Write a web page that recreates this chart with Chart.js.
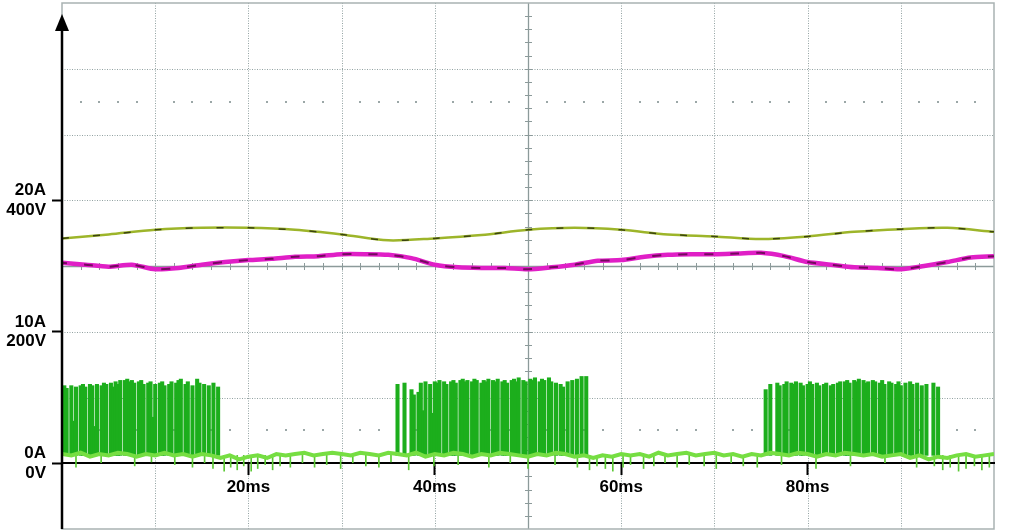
<!DOCTYPE html>
<html>
<head>
<meta charset="utf-8">
<script src="https://cdn.jsdelivr.net/npm/chart.js@4/dist/chart.umd.min.js"></script>
<style>
  html, body { margin: 0; padding: 0; background: #fff; }
  canvas { display: block; }
</style>
</head>
<body>
<canvas id="scope" width="1014" height="531"></canvas>
<script>
// ---- data (time in ms, current in A, voltage in V) ----
const timeLabels = [20, 40, 60, 80];
const ampLabels = [0, 10, 20];
const voltLabels = [0, 200, 400];

// olive trace (V)
const oliveTimes = [0, 5, 10, 15, 20, 25, 30, 35, 40, 45, 50, 55, 60, 65, 70, 75, 80, 85, 90, 95, 100];
const oliveVolts = [342, 348, 355, 358, 358, 355, 348, 339, 342, 347, 355, 358, 355, 348, 345, 341, 345, 352, 356, 358, 352];

// magenta trace (V)
const magentaTimes = [0, 2.5, 5, 7.5, 10, 12.5, 15, 17.5, 20, 22.5, 25, 27.5, 30, 32.5, 35, 37.5, 40, 42.5, 45, 47.5, 50,
  52.5, 55, 57.5, 60, 62.5, 65, 67.5, 70, 72.5, 75, 77.5, 80, 82.5, 85, 87.5, 90, 92.5, 95, 97.5, 100];
const magentaVolts = [305, 302, 299, 302, 295, 297, 302, 306, 309, 311, 314, 315, 318, 318, 317, 312, 302, 298, 297, 297, 295,
  298, 302, 308, 309, 314, 317, 318, 318, 319, 320, 315, 306, 302, 298, 297, 295, 300, 306, 313, 315];

// green current: base level every 1 ms (A)
const baseAmps = [0.7, 0.6, 0.8, 0.5, 0.7, 0.6, 0.8, 0.7, 0.5, 0.7, 0.6, 0.8, 0.6, 0.7, 0.5, 0.7, 0.6, 0.4, 0.6, 0.3,
  0.5, 0.6, 0.4, 0.7, 0.6, 0.7, 0.8, 0.6, 0.7, 0.8, 0.7, 0.6, 0.8, 0.7, 0.6, 0.8, 0.7, 0.6, 0.8, 0.5,
  0.7, 0.6, 0.8, 0.7, 0.5, 0.7, 0.6, 0.8, 0.7, 0.6, 0.5, 0.7, 0.6, 0.8, 0.7, 0.5, 0.6, 0.4, 0.6, 0.5,
  0.7, 0.6, 0.7, 0.5, 0.8, 0.6, 0.7, 0.8, 0.6, 0.7, 0.8, 0.6, 0.7, 0.5, 0.7, 0.6, 0.8, 0.7, 0.6, 0.8,
  0.7, 0.5, 0.7, 0.6, 0.8, 0.7, 0.6, 0.7, 0.5, 0.6, 0.7, 0.4, 0.6, 0.3, 0.5, 0.4, 0.6, 0.7, 0.5, 0.6, 0.7];

// switching bursts: one pulse peak (A) every 0.25 ms, 0 = no pulse
const pulseStep = 0.25;
const burstStarts = [0.25, 36.0, 75.5];
const burst1 = [5.9, 5.7, 0, 5.9, 3.2, 5.8, 0, 5.9, 6.0, 5.8, 0, 6.0, 5.9, 2.8, 6.0, 0, 5.9, 6.1, 6.0, 0,
  6.1, 5.8, 6.2, 6.0, 6.3, 0, 6.3, 6.4, 6.2, 6.3, 6.1, 0, 6.2, 6.3, 6.0, 0, 6.1, 6.2, 3.5, 6.0,
  0, 6.1, 6.2, 5.9, 0, 6.0, 6.2, 0, 6.1, 6.3, 6.4, 0, 6.0, 6.2, 0, 5.9, 0, 6.4, 6.1, 0,
  6.0, 0, 5.9, 0, 6.1, 0, 5.8];
const burst2 = [6.0, 0, 0, 6.1, 0, 0, 5.6, 5.2, 0, 5.4, 6.1, 4.0, 6.2, 0, 6.0, 3.8, 6.2, 6.1, 6.3, 0,
  6.2, 6.0, 0, 6.2, 6.3, 6.1, 0, 6.3, 6.4, 6.2, 6.3, 0, 6.2, 6.4, 6.3, 0, 6.1, 6.3, 6.2, 6.4,
  0, 6.3, 6.2, 6.4, 0, 6.2, 6.3, 6.1, 0, 6.3, 6.4, 6.2, 6.5, 0, 6.3, 6.2, 0, 6.4, 6.3, 6.5,
  0, 6.2, 6.4, 6.3, 0, 6.5, 6.2, 0, 6.1, 0, 6.0, 5.8, 0, 6.2, 0, 6.3, 0, 6.4, 0, 6.6,
  0, 6.6];
const burst3 = [5.6, 0, 6.0, 0, 0, 6.1, 5.9, 0, 6.0, 6.2, 0, 6.1, 6.0, 6.2, 0, 6.1, 5.9, 0, 6.0, 6.2,
  6.0, 0, 6.1, 5.9, 0, 6.0, 6.1, 0, 5.9, 6.0, 0, 6.1, 6.2, 0, 6.2, 6.3, 6.1, 0, 6.3, 6.2,
  6.4, 0, 6.3, 6.1, 6.2, 0, 6.3, 6.2, 0, 6.1, 6.3, 6.0, 0, 6.2, 6.1, 0, 6.0, 6.2, 5.9, 0,
  6.1, 0, 6.2, 6.0, 0, 6.1, 0, 5.9, 0, 6.0, 0, 0, 6.1, 0, 5.8];
const bursts = [burst1, burst2, burst3];

// downward noise spikes on the current trace
const noiseTimes = [1.5, 4.2, 7.8, 9.6, 12.1, 14.0, 15.3, 16.2, 17.4, 18.1, 18.8, 19.5, 20.3, 21.0, 21.8, 22.6, 23.4, 24.5, 25.8, 27.1,
  28.4, 29.9, 31.2, 32.6, 34.0, 35.3, 37.2, 39.9, 42.5, 45.8, 48.1, 50.0, 52.9, 55.3, 56.6, 57.4, 58.3, 59.1, 60.2, 61.0,
  62.4, 63.5, 64.7, 66.0, 67.3, 68.9, 70.2, 71.8, 73.1, 74.6, 77.2, 80.9, 84.6, 88.3, 91.7, 93.6, 94.5, 95.3, 96.2, 97.0,
  97.9, 98.7, 99.5];
const noiseLows = [-0.3, 0.0, -0.2, 0.1, -0.1, -0.3, 0.0, -0.4, -0.6, -0.3, -0.5, -0.2, -0.6, -0.4, -0.1, -0.5, -0.2, -0.3, 0.0, -0.3,
  -0.1, -0.4, 0.0, -0.2, -0.3, 0.1, -0.5, -0.2, -0.1, -0.3, 0.0, -0.4, -0.1, -0.3, -0.5, -0.2, -0.4, -0.6, -0.3, -0.1,
  -0.4, -0.2, 0.0, -0.3, -0.1, -0.2, -0.4, 0.0, -0.2, -0.3, -0.1, -0.4, -0.2, 0.0, -0.3, -0.2, -0.5, -0.3, -0.6, -0.4,
  -0.2, -0.5, -0.3];
const noiseTop = 0.6;

// ---- build datasets ----
const olivePts = oliveTimes.map((t, i) => ({ x: t, y: oliveVolts[i] }));
const magentaPts = magentaTimes.map((t, i) => ({ x: t, y: magentaVolts[i] }));
const basePts = baseAmps.map((v, i) => ({ x: i, y: v }));

const pulsePts = [];
bursts.forEach((b, k) => {
  b.forEach((peak, i) => {
    if (peak > 0) pulsePts.push({ x: burstStarts[k] + i * pulseStep, y: [noiseTop, peak] });
  });
});
const noisePts = noiseTimes.map((t, i) => ({ x: t, y: [noiseLows[i], noiseTop] }));

const FONT = { family: "'Liberation Sans', Arial, sans-serif", size: 17, weight: 'bold', lineHeight: 1.15 };

// oscilloscope graticule, drawn behind everything
const graticule = {
  id: 'graticule',
  beforeDraw(chart) {
    const { ctx, chartArea: a } = chart;
    const x = chart.scales.x, y = chart.scales.y;
    const xStep = chart.options.scales.x.ticks.stepSize;
    const yStep = chart.options.scales.y.ticks.stepSize;
    const xMid = (x.min + x.max) / 2, yMid = (y.min + y.max) / 2;
    const line = (x1, y1, x2, y2) => { ctx.beginPath(); ctx.moveTo(x1, y1); ctx.lineTo(x2, y2); ctx.stroke(); };

    ctx.save();
    // dotted divisions
    ctx.strokeStyle = '#93a2a2';
    ctx.lineWidth = 1;
    ctx.setLineDash([1, 1.5]);
    x.ticks.forEach(t => {
      if (t.value <= x.min || t.value >= x.max || t.value === xMid) return;
      const px = Math.round(x.getPixelForValue(t.value)) + 0.5;
      line(px, a.top, px, a.bottom);
    });
    y.ticks.forEach(t => {
      if (t.value <= y.min || t.value >= y.max || t.value === yMid || t.value === 0) return;
      const py = Math.round(y.getPixelForValue(t.value)) + 0.5;
      line(a.left, py, a.right, py);
    });
    ctx.setLineDash([]);

    // centre cross with minor ticks
    ctx.strokeStyle = '#8c9a9a';
    ctx.lineWidth = 1.3;
    const cx = Math.round(x.getPixelForValue(xMid)) + 0.5;
    const cy = Math.round(y.getPixelForValue(yMid)) + 0.5;
    line(cx, a.top, cx, a.bottom);
    line(a.left, cy, a.right, cy);
    ctx.lineWidth = 1;
    for (let v = y.min + yStep / 5; v < y.max - 1e-6; v += yStep / 5) {
      const py = Math.round(y.getPixelForValue(v)) + 0.5;
      line(cx - 3.5, py, cx + 3.5, py);
    }
    for (let v = x.min + xStep / 5; v < x.max - 1e-6; v += xStep / 5) {
      const px = Math.round(x.getPixelForValue(v)) + 0.5;
      line(px, cy - 3.5, px, cy + 3.5);
    }

    // dot rows
    ctx.fillStyle = '#9ba7a7';
    [y.min + 1.5 * yStep, y.max - 1.5 * yStep].forEach(v => {
      const py = Math.round(y.getPixelForValue(v));
      for (let k = 1; k < (x.max - x.min) / (xStep / 5); k++) {
        if (k % 5 === 0) continue;
        const px = Math.round(x.getPixelForValue(x.min + k * xStep / 5));
        ctx.fillRect(px - 1, py - 1, 2, 2);
      }
    });

    // frame
    ctx.strokeStyle = '#a9b2b2';
    ctx.lineWidth = 1.5;
    ctx.strokeRect(a.left, a.top, a.right - a.left, a.bottom - a.top);
    ctx.restore();
  },
  afterDatasetsDraw(chart) {
    const { ctx, chartArea: a } = chart;
    ctx.save();
    ctx.strokeStyle = '#000';
    ctx.fillStyle = '#000';
    ctx.lineWidth = 2.5;
    ctx.beginPath();
    ctx.moveTo(a.left, a.bottom);
    ctx.lineTo(a.left, a.top + 26);
    ctx.stroke();
    ctx.beginPath();
    ctx.moveTo(a.left, a.top + 11);
    ctx.lineTo(a.left - 7, a.top + 28);
    ctx.lineTo(a.left + 7, a.top + 28);
    ctx.closePath();
    ctx.fill();
    ctx.restore();
  }
};

new Chart(document.getElementById('scope'), {
  type: 'line',
  data: {
    datasets: [
      { type: 'line', data: magentaPts, yAxisID: 'yV', borderColor: 'rgba(70,0,50,0.7)', borderWidth: 2,
        borderDash: [9, 17], borderDashOffset: 4, pointRadius: 0, tension: 0.25, order: 1 },
      { type: 'line', data: magentaPts, yAxisID: 'yV', borderColor: '#e01fc6', borderWidth: 4.5,
        pointRadius: 0, tension: 0.25, order: 2 },
      { type: 'line', data: olivePts, yAxisID: 'yV', borderColor: 'rgba(35,40,10,0.8)', borderWidth: 1.5,
        borderDash: [7, 24], pointRadius: 0, tension: 0.3, order: 3 },
      { type: 'line', data: olivePts, yAxisID: 'yV', borderColor: '#9db52a', borderWidth: 2.5,
        pointRadius: 0, tension: 0.3, order: 4 },
      { type: 'line', data: basePts, yAxisID: 'y', borderColor: '#76de42', borderWidth: 4,
        pointRadius: 0, tension: 0, order: 5 },
      { type: 'bar', data: noisePts, yAxisID: 'y', backgroundColor: '#5cc935', barThickness: 1,
        grouped: false, order: 6 },
      { type: 'bar', data: pulsePts, yAxisID: 'y', backgroundColor: '#1cae1c', barThickness: 3.4,
        grouped: false, order: 7 }
    ]
  },
  options: {
    responsive: false,
    animation: false,
    devicePixelRatio: 1,
    layout: { padding: { top: 3, right: 20, bottom: 2, left: 0 } },
    plugins: { legend: { display: false }, tooltip: { enabled: false } },
    scales: {
      x: {
        type: 'linear',
        position: { y: 0 },
        min: 0, max: 100,
        offset: false,
        ticks: {
          stepSize: 10, autoSkip: false, maxRotation: 0, padding: 3,
          color: '#000', font: FONT,
          callback: v => timeLabels.includes(v) ? v + 'ms' : ''
        },
        grid: {
          offset: false, drawOnChartArea: false, drawTicks: true, tickLength: 11, tickWidth: 2,
          tickColor: c => (c.tick && timeLabels.includes(c.tick.value)) ? '#000' : 'rgba(0,0,0,0)'
        },
        border: { display: true, color: '#000', width: 2 }
      },
      y: {
        type: 'linear',
        position: 'left',
        min: -5, max: 35,
        ticks: {
          stepSize: 5, autoSkip: false, padding: 6,
          color: '#000', font: FONT,
          callback: v => {
            const i = ampLabels.indexOf(v);
            return i < 0 ? '' : [v + 'A', voltLabels[i] + 'V'];
          }
        },
        grid: {
          drawOnChartArea: false, drawTicks: true, tickLength: 10, tickWidth: 2,
          tickColor: c => (c.tick && ampLabels.includes(c.tick.value)) ? '#000' : 'rgba(0,0,0,0)'
        },
        border: { display: false },
        afterFit: s => { s.width = 62; s.paddingTop = 0; s.paddingBottom = 0; }
      },
      yV: { type: 'linear', display: false, min: -100, max: 700 }
    }
  },
  plugins: [graticule]
});
</script>
</body>
</html>
